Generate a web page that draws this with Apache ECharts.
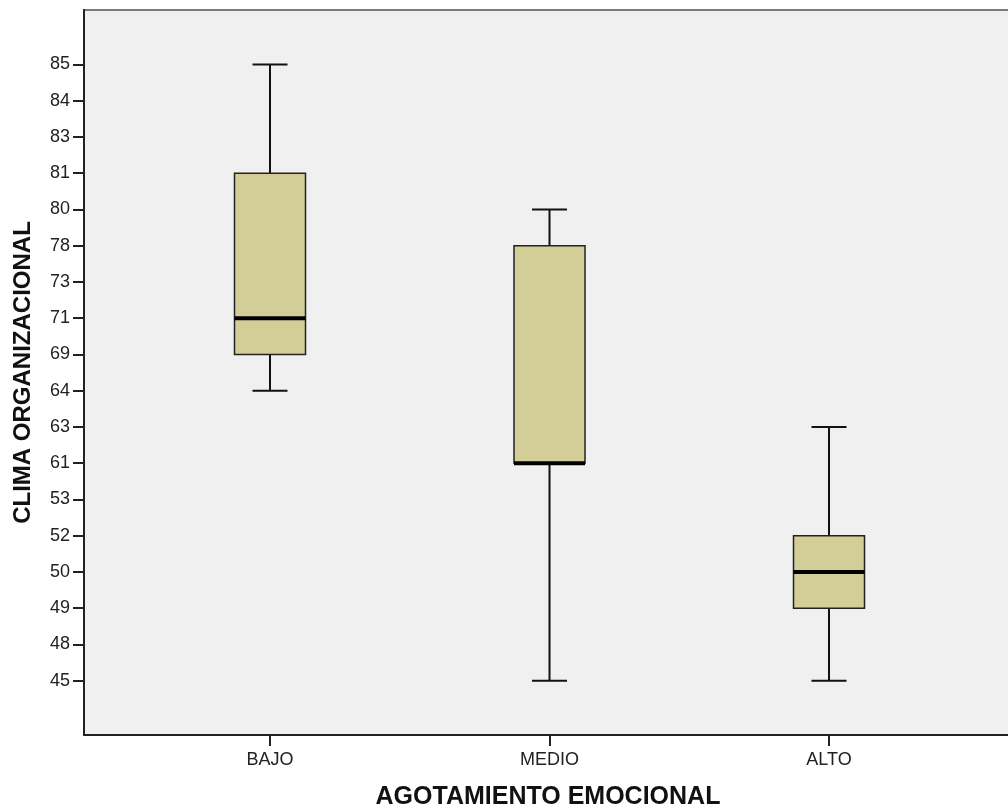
<!DOCTYPE html>
<html>
<head>
<meta charset="utf-8">
<script src="https://cdn.jsdelivr.net/npm/echarts@6/dist/echarts.min.js"></script>
<style>
  html, body { margin: 0; padding: 0; background: #fff; }
  #chart { width: 1008px; height: 808px; }
</style>
</head>
<body>
<div id="chart"></div>
<script>
// groups on the x axis
var categories = ['BAJO', 'MEDIO', 'ALTO']
// y axis tick labels (SPSS shows them as evenly spaced ordinal values)
var yTicks = [45, 48, 49, 50, 52, 53, 61, 63, 64, 69, 71, 73, 78, 80, 81, 83, 84, 85]
// five-number summaries per group
var minVals = [64, 45, 45]
var q1Vals = [69, 61, 49]
var medVals = [71, 61, 50]
var q3Vals = [81, 78, 52]
var maxVals = [85, 80, 63]

var font = "'Liberation Sans', Arial, sans-serif"

function pos(v) {
    return yTicks.indexOf(v)
}

var boxData = []
for (var i = 0; i < categories.length; i++) {
    boxData.push([i + 1, pos(minVals[i]), pos(q1Vals[i]), pos(medVals[i]), pos(q3Vals[i]), pos(maxVals[i])])
}
var tickIdx = []
for (var j = 0; j < yTicks.length; j++) tickIdx.push(j)

var chart = echarts.init(document.getElementById('chart'))

function renderBox(params, api) {
    var x = api.value(0)
    var pMin = api.coord([x, api.value(1)])
    var pQ1 = api.coord([x, api.value(2)])
    var pMed = api.coord([x, api.value(3)])
    var pQ3 = api.coord([x, api.value(4)])
    var pMax = api.coord([x, api.value(5)])
    var bw = 71, cw = 35
    var cx = pMin[0]
    var lineStyle = { stroke: '#111', lineWidth: 2 }
    return {
        type: 'group',
        children: [
            { type: 'line', shape: { x1: cx, y1: pMax[1], x2: cx, y2: pQ3[1] }, style: lineStyle },
            { type: 'line', shape: { x1: cx, y1: pQ1[1], x2: cx, y2: pMin[1] }, style: lineStyle },
            { type: 'line', shape: { x1: cx - cw / 2, y1: pMax[1], x2: cx + cw / 2, y2: pMax[1] }, style: lineStyle },
            { type: 'line', shape: { x1: cx - cw / 2, y1: pMin[1], x2: cx + cw / 2, y2: pMin[1] }, style: lineStyle },
            {
                type: 'rect',
                shape: { x: cx - bw / 2, y: pQ3[1], width: bw, height: pQ1[1] - pQ3[1] },
                style: { fill: '#d3ce97', stroke: '#222', lineWidth: 1.5 }
            },
            { type: 'line', shape: { x1: cx - bw / 2, y1: pMed[1], x2: cx + bw / 2, y2: pMed[1] }, style: { stroke: '#000', lineWidth: 4 } }
        ]
    }
}

var option = {
    animation: false,
    backgroundColor: '#fff',
    grid: {
        left: 84,
        top: 10,
        right: -4,
        bottom: 73,
        outerBoundsMode: 'none',
        show: true,
        backgroundColor: '#f0f0f0',
        borderColor: '#7a7a7a',
        borderWidth: 2
    },
    xAxis: {
        type: 'value',
        min: 0.3345,
        max: 3.6547,
        name: 'AGOTAMIENTO EMOCIONAL',
        nameLocation: 'middle',
        nameGap: 50,
        nameTextStyle: { fontFamily: font, fontSize: 25, fontWeight: 'bold', color: '#111' },
        axisLine: { onZero: false, lineStyle: { color: '#222', width: 2 } },
        axisTick: { show: true, length: 11, customValues: [1, 2, 3], lineStyle: { color: '#222', width: 2 } },
        axisLabel: {
            customValues: [1, 2, 3],
            margin: 16,
            fontFamily: font,
            fontSize: 18,
            color: '#222',
            formatter: function (v) { return categories[Math.round(v) - 1] }
        },
        splitLine: { show: false }
    },
    yAxis: {
        type: 'value',
        min: -1.5,
        max: 18.5,
        name: 'CLIMA ORGANIZACIONAL',
        nameLocation: 'middle',
        nameGap: 49,
        nameTextStyle: { fontFamily: font, fontSize: 24, fontWeight: 'bold', color: '#111' },
        axisLine: { show: true, onZero: false, lineStyle: { color: '#222', width: 2 } },
        axisTick: { show: true, length: 11, customValues: tickIdx, lineStyle: { color: '#222', width: 2 } },
        axisLabel: {
            customValues: tickIdx,
            margin: 14,
            fontFamily: font,
            fontSize: 18,
            color: '#222',
            formatter: function (v) { return String(yTicks[Math.round(v)]) }
        },
        splitLine: { show: false }
    },
    series: [
        {
            type: 'custom',
            renderItem: renderBox,
            encode: { x: 0, y: [1, 2, 3, 4, 5] },
            data: boxData
        }
    ]
}
chart.setOption(option)
</script>
</body>
</html>
